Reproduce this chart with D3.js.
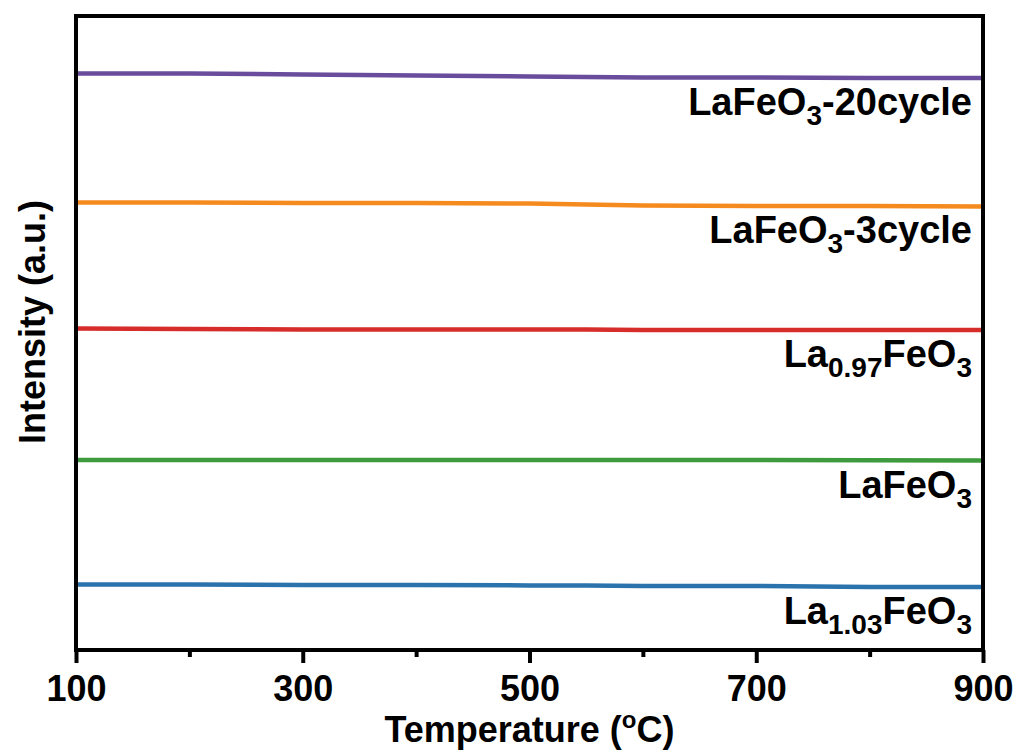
<!DOCTYPE html>
<html>
<head>
<meta charset="utf-8">
<script src="https://cdn.jsdelivr.net/npm/d3@7"></script>
<style>
  body { margin: 0; background: #fff; }
  text { font-family: Arial, "Liberation Sans", sans-serif; font-weight: bold; fill: #000; }
</style>
</head>
<body>
<div id="chart"></div>
<script>
// data (intensity in arbitrary units, stacked)
var temps = [100, 200, 300, 400, 500, 550, 600, 700, 800, 900];
var la103 = [0.517, 0.517, 0.513, 0.513, 0.509, 0.509, 0.505, 0.505, 0.497, 0.497];
var lafeo3 = [1.498, 1.498, 1.498, 1.498, 1.498, 1.498, 1.498, 1.498, 1.496, 1.494];
var la097 = [2.535, 2.532, 2.528, 2.528, 2.528, 2.528, 2.524, 2.524, 2.524, 2.524];
var cycle3 = [3.529, 3.529, 3.525, 3.525, 3.521, 3.513, 3.506, 3.502, 3.502, 3.498];
var cycle20 = [4.547, 4.547, 4.539, 4.531, 4.523, 4.519, 4.515, 4.515, 4.511, 4.511];
var xTicks = [100, 300, 500, 700, 900];
var xMinor = [200, 400, 600, 800];

// label parts: [text, is subscript]
var series = [
  { values: cycle20, color: "#6a4c9c", label: [["LaFeO", 0], ["3", 1], ["-20cycle", 0]] },
  { values: cycle3, color: "#f58a1f", label: [["LaFeO", 0], ["3", 1], ["-3cycle", 0]] },
  { values: la097, color: "#d62c2a", label: [["La", 0], ["0.97", 1], ["FeO", 0], ["3", 1]] },
  { values: lafeo3, color: "#3d9b3d", label: [["LaFeO", 0], ["3", 1]] },
  { values: la103, color: "#2b73ad", label: [["La", 0], ["1.03", 1], ["FeO", 0], ["3", 1]] }
];

var svgWidth = 1020;
var svgHeight = 753;
var margin = { top: 16, right: 37, bottom: 103, left: 76 };
var width = svgWidth - margin.left - margin.right;
var height = svgHeight - margin.top - margin.bottom;

var svg = d3.select("#chart")
  .append("svg")
  .attr("width", svgWidth)
  .attr("height", svgHeight);

var chartGroup = svg.append("g")
  .attr("transform", `translate(${margin.left}, ${margin.top})`);

var xScale = d3.scaleLinear().domain([100, 900]).range([0, width]);
var yScale = d3.scaleLinear().domain([0, 5]).range([height, 0]);

// lines
var line = d3.line()
  .x((d, i) => xScale(temps[i]))
  .y(d => yScale(d));

series.forEach(function(s) {
  chartGroup.append("path")
    .datum(s.values)
    .attr("d", line)
    .attr("fill", "none")
    .attr("stroke", s.color)
    .attr("stroke-width", 4.5);

  // label under the right end of the line
  var yEnd = yScale(s.values[s.values.length - 1]);
  var t = chartGroup.append("text")
    .attr("x", width - 11)
    .attr("y", yEnd + 37)
    .attr("text-anchor", "end")
    .style("font-size", "38px");
  var shifted = false;
  s.label.forEach(function(p) {
    var sp = t.append("tspan").text(p[0]);
    if (p[1]) {
      sp.style("font-size", "28px").attr("dy", shifted ? 0 : 10);
      shifted = true;
    } else {
      sp.attr("dy", shifted ? -10 : 0);
      shifted = false;
    }
  });
});

// x axis with major and minor ticks
var bottomAxis = d3.axisBottom(xScale)
  .tickValues(xTicks)
  .tickSize(13)
  .tickPadding(12)
  .tickFormat(d3.format("d"));

var xAxis = chartGroup.append("g")
  .attr("transform", `translate(0, ${height})`)
  .call(bottomAxis);
xAxis.select(".domain").remove();
xAxis.selectAll(".tick line").attr("stroke", "#000").attr("stroke-width", 4);
xAxis.selectAll(".tick text")
  .style("font-size", "36px")
  .attr("dy", "0.72em");

var minorAxis = d3.axisBottom(xScale)
  .tickValues(xMinor)
  .tickSize(7)
  .tickFormat("");
var xMinorAxis = chartGroup.append("g")
  .attr("transform", `translate(0, ${height})`)
  .call(minorAxis);
xMinorAxis.select(".domain").remove();
xMinorAxis.selectAll(".tick line").attr("stroke", "#000").attr("stroke-width", 4);

// frame
chartGroup.append("rect")
  .attr("x", 0)
  .attr("y", 0)
  .attr("width", width)
  .attr("height", height)
  .attr("fill", "none")
  .attr("stroke", "#000")
  .attr("stroke-width", 4);

// axis titles
var xTitle = chartGroup.append("text")
  .attr("x", width / 2)
  .attr("y", height + 92)
  .attr("text-anchor", "middle")
  .style("font-size", "36px")
  .text("Temperature (");
xTitle.append("tspan").text("o").style("font-size", "24px").attr("dy", -14);
xTitle.append("tspan").text("C)").attr("dy", 14);

chartGroup.append("text")
  .attr("transform", "rotate(-90)")
  .attr("x", -(height / 2) + 11)
  .attr("y", 45 - margin.left)
  .attr("text-anchor", "middle")
  .style("font-size", "36px")
  .text("Intensity (a.u.)");
</script>
</body>
</html>
